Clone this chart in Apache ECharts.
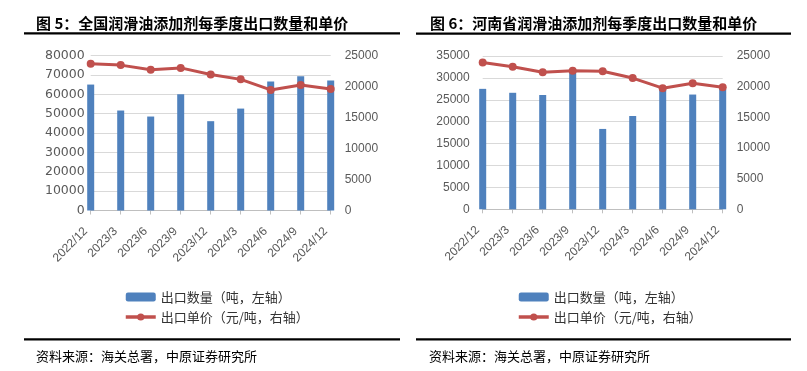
<!DOCTYPE html>
<html><head><meta charset="utf-8">
<script src="https://cdn.jsdelivr.net/npm/echarts@6/dist/echarts.min.js"></script>
<style>html,body{margin:0;padding:0;background:#fff}#c{width:807px;height:371px}</style>
</head><body><div id="c"></div>
<script>
// ---- data ----
const categories = ['2022/12','2023/3','2023/6','2023/9','2023/12','2024/3','2024/6','2024/9','2024/12'];
const nationalVolume = [65000, 51600, 48500, 60000, 46100, 52600, 66600, 69300, 67100];
const nationalPrice  = [23650, 23450, 22700, 23000, 21950, 21150, 19450, 20250, 19600];
const henanVolume    = [27500, 26600, 26100, 31500, 18350, 21300, 27300, 26200, 27500];
const henanPrice     = [23950, 23250, 22350, 22600, 22500, 21400, 19750, 20550, 19900];
const nationalVolumeAxis = {min: 0, max: 80000, interval: 10000};
const henanVolumeAxis    = {min: 0, max: 35000, interval: 5000};
const priceAxis          = {min: 0, max: 25000, interval: 5000};
const titles = ['图 5：全国润滑油添加剂每季度出口数量和单价', '图 6：河南省润滑油添加剂每季度出口数量和单价'];
const sourceText = '资料来源：海关总署，中原证券研究所';
const seriesNames = ['出口数量（吨，左轴）', '出口单价（元/吨，右轴）'];

// ---- styles ----
const BLUE = '#4F81BD', RED = '#C0504D';
const LABEL = '#595959', GRID = '#D9D9D9', AXIS = '#BFBFBF';
const CJK = '"Noto Sans CJK SC", sans-serif';
const LATIN = '"Liberation Sans", Arial, sans-serif';

function xAxis(gridIndex) {
  return {
    type: 'category', gridIndex, data: categories, boundaryGap: false,
    axisLine: {lineStyle: {color: AXIS, width: 1}},
    axisTick: {show: true, length: 4, lineStyle: {color: AXIS}},
    axisLabel: {rotate: 45, color: LABEL, fontFamily: LATIN, fontSize: 12, margin: 14, padding: [0, 7, 0, 0], interval: 0},
    splitLine: {show: false}
  };
}
function yAxis(gridIndex, pos, scale, margin, split, font, size) {
  return {
    type: 'value', gridIndex, position: pos, min: scale.min, max: scale.max, interval: scale.interval,
    axisLine: {show: false}, axisTick: {show: false},
    axisLabel: {color: LABEL, fontFamily: font || LATIN, fontSize: size || 12, margin, formatter: v => String(v)},
    splitLine: {show: split, lineStyle: {color: GRID, width: 1}}
  };
}
function bar(xi, yi, data) {
  return {name: seriesNames[0], type: 'bar', xAxisIndex: xi, yAxisIndex: yi, data,
    barWidth: 7, itemStyle: {color: BLUE}, z: 2};
}
function line(xi, yi, data) {
  return {name: seriesNames[1], type: 'line', xAxisIndex: xi, yAxisIndex: yi, data,
    symbol: 'circle', symbolSize: 8, lineStyle: {color: RED, width: 3},
    itemStyle: {color: RED}, z: 3};
}
function legend(left) {
  return {orient: 'vertical', left, top: 285, itemWidth: 30, itemHeight: 9, itemGap: 6,
    data: [
      {name: seriesNames[0], itemStyle: {color: BLUE}},
      {name: seriesNames[1], itemStyle: {color: RED}, lineStyle: {color: RED, width: 3.5}}
    ],
    selectedMode: false,
    textStyle: {fontFamily: CJK, fontSize: 13, color: '#333', lineHeight: 14}};
}
function titleBlock(text, left, top, size, weight) {
  return {text, left, top, textStyle: {fontFamily: CJK, fontSize: size, fontWeight: weight, color: '#000'}};
}

const chart = echarts.init(document.getElementById('c'), null, {renderer: 'canvas'});
chart.setOption({
  animation: false,
  backgroundColor: '#fff',
  title: [
    titleBlock(titles[0], 31, 11, 15, 'bold'),
    titleBlock(titles[1], 425, 11, 15, 'bold'),
    titleBlock(sourceText, 31, 345, 13, 'normal'),
    titleBlock(sourceText, 424, 345, 13, 'normal')
  ],
  grid: [
    {left: 90.7, top: 55.5, width: 240, height: 155},
    {left: 482.7, top: 56, width: 240, height: 153.3}
  ],
  xAxis: [xAxis(0), xAxis(1)],
  yAxis: [
    yAxis(0, 'left', nationalVolumeAxis, 6, true, '"DejaVu Sans", sans-serif', 12.5),
    yAxis(0, 'right', priceAxis, 14, false),
    yAxis(1, 'left', henanVolumeAxis, 13, true),
    yAxis(1, 'right', priceAxis, 14, false)
  ],
  legend: [legend(119), legend(512)],
  series: [
    bar(0, 0, nationalVolume), line(0, 1, nationalPrice),
    bar(1, 2, henanVolume), line(1, 3, henanPrice)
  ],
  graphic: [
    {type: 'rect', shape: {x: 24, y: 32.3, width: 376, height: 2.2}, style: {fill: '#000'}},
    {type: 'rect', shape: {x: 416, y: 32.5, width: 375, height: 2.2}, style: {fill: '#000'}},
    {type: 'rect', shape: {x: 24, y: 338.3, width: 376, height: 2.2}, style: {fill: '#000'}},
    {type: 'rect', shape: {x: 416, y: 338.3, width: 375, height: 2.2}, style: {fill: '#000'}}
  ]
});
</script></body></html>
